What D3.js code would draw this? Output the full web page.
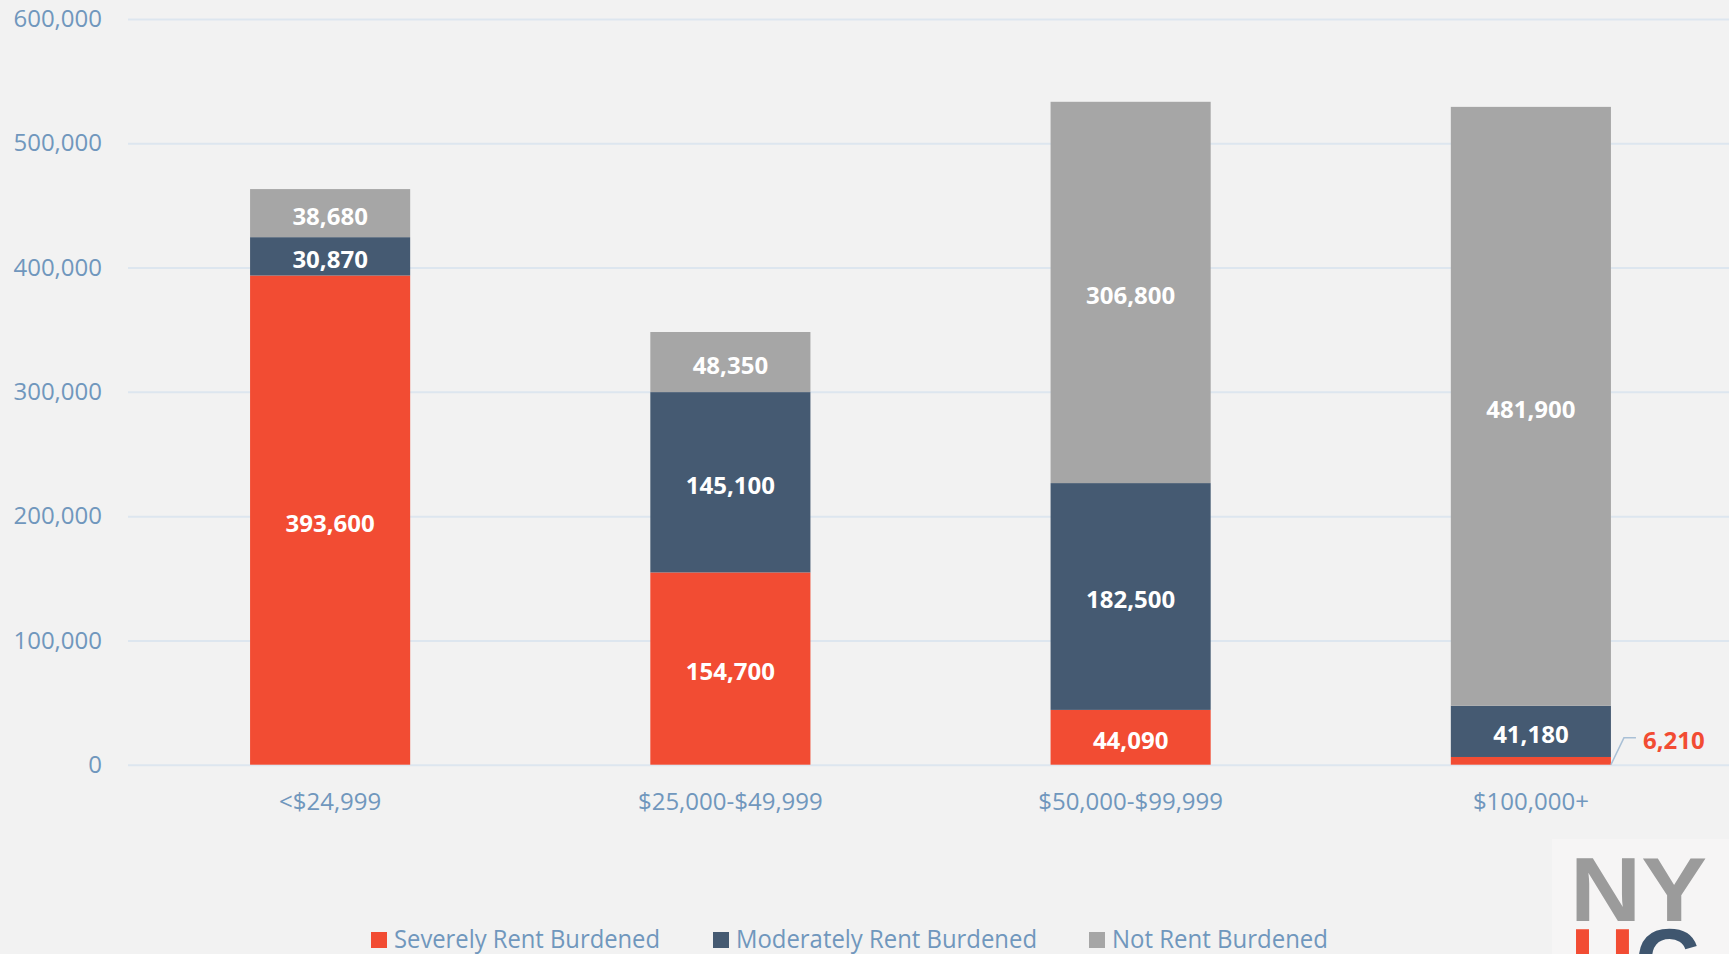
<!DOCTYPE html>
<html>
<head>
<meta charset="utf-8">
<script src="https://cdnjs.cloudflare.com/ajax/libs/d3/7.8.5/d3.min.js"></script>
<style>
  body { margin: 0; background: #f2f2f2; overflow: hidden; }
  svg { display: block; font-family: "Open Sans", sans-serif; }
</style>
</head>
<body>
<svg width="1729" height="954"></svg>
<script>
// Data
var categories = ["<$24,999", "$25,000-$49,999", "$50,000-$99,999", "$100,000+"];
var severe = [393600, 154700, 44090, 6210];
var moderate = [30870, 145100, 182500, 41180];
var notBurdened = [38680, 48350, 306800, 481900];
var seriesNames = ["Severely Rent Burdened", "Moderately Rent Burdened", "Not Rent Burdened"];
var seriesColors = ["#f24c33", "#455a72", "#a6a6a6"];
var yTicks = [0, 100000, 200000, 300000, 400000, 500000, 600000];

var svg = d3.select("svg"),
    width = +svg.attr("width"),
    height = +svg.attr("height");

var axisColor = "#7097bd";
var fmt = d3.format(",");

// Table for the stack
var table = categories.map(function(c, i) {
  return { cat: c, severe: severe[i], moderate: moderate[i], not: notBurdened[i] };
});
var stack = d3.stack().keys(["severe", "moderate", "not"])(table);

var x = d3.scaleBand()
    .domain(categories)
    .range([130, width + 2])
    .paddingInner(0.6)
    .paddingOuter(0.3);

var y = d3.scaleLinear()
    .domain([0, 600000])
    .range([764.7, 19]);

// Gridlines + y labels
var yAxis = svg.append("g")
    .attr("transform", "translate(128,0)")
    .call(d3.axisLeft(y).tickValues(yTicks).tickFormat(fmt).tickSize(-(width - 128)).tickPadding(26));
yAxis.select(".domain").remove();
yAxis.selectAll("line").attr("stroke", "#dde6ef").attr("stroke-width", 2);
yAxis.selectAll("text")
    .attr("fill", axisColor)
    .style("font-size", "24px")
    .style("font-family", "'Open Sans', sans-serif");

// X labels
svg.append("g").selectAll("text")
    .data(categories).enter().append("text")
    .attr("x", function(d) { return x(d) + x.bandwidth() / 2; })
    .attr("y", 810)
    .attr("text-anchor", "middle")
    .attr("fill", axisColor)
    .style("font-size", "24px")
    .text(function(d) { return d; });

// Stacked bars
var layers = svg.append("g").selectAll("g")
    .data(stack).enter().append("g")
    .attr("fill", function(d, i) { return seriesColors[i]; });

layers.selectAll("rect")
    .data(function(d) { return d; }).enter().append("rect")
    .attr("x", function(d) { return x(d.data.cat); })
    .attr("y", function(d) { return y(d[1]); })
    .attr("width", x.bandwidth())
    .attr("height", function(d) { return y(d[0]) - y(d[1]); });

// Value labels inside segments (small one goes outside with a leader)
stack.forEach(function(layer) {
  layer.forEach(function(d) {
    var v = d[1] - d[0];
    var cx = x(d.data.cat) + x.bandwidth() / 2;
    if (y(d[0]) - y(d[1]) < 20) {
      var bx = x(d.data.cat) + x.bandwidth();
      var ly = y(d[0] + v / 2) - 23;
      svg.append("path")
          .attr("d", "M" + bx + "," + y(d[0]) + "L" + (bx + 13) + "," + ly + "L" + (bx + 25) + "," + ly)
          .attr("fill", "none")
          .attr("stroke", "#a9c0d6")
          .attr("stroke-width", 1.5);
      svg.append("text")
          .attr("x", bx + 32)
          .attr("y", ly)
          .attr("dy", "0.45em")
          .attr("fill", seriesColors[0])
          .style("font-size", "24px")
          .style("font-weight", "bold")
          .text(fmt(v));
      return;
    }
    svg.append("text")
        .attr("x", cx)
        .attr("y", y(d[0] + v / 2))
        .attr("dy", "0.48em")
        .attr("text-anchor", "middle")
        .attr("fill", "#ffffff")
        .style("font-size", "24px")
        .style("font-weight", "bold")
        .text(fmt(v));
  });
});

// Legend
var legendX = [371, 713, 1089];
var legendW = [266, 301, 216];
var legend = svg.append("g").selectAll("g")
    .data(seriesNames).enter().append("g")
    .attr("transform", function(d, i) { return "translate(" + legendX[i] + ",0)"; });
legend.append("rect")
    .attr("y", 932)
    .attr("width", 16)
    .attr("height", 16)
    .attr("fill", function(d, i) { return seriesColors[i]; });
legend.append("text")
    .attr("x", 23)
    .attr("y", 948)
    .attr("fill", axisColor)
    .attr("textLength", function(d, i) { return legendW[i]; })
    .attr("lengthAdjust", "spacingAndGlyphs")
    .style("font-size", "25px")
    .text(function(d) { return d; });

// Logo (cut off at the bottom)
svg.append("rect")
    .attr("x", 1552).attr("y", 839)
    .attr("width", 177).attr("height", 115)
    .attr("fill", "#f6f5f5");
svg.append("text")
    .attr("x", 1570)
    .attr("y", 921)
    .style("font-family", "'Liberation Sans', Arial, sans-serif")
    .style("font-weight", "bold")
    .style("font-size", "90px")
    .attr("fill", "#9b9b9b")
    .attr("textLength", 137)
    .attr("lengthAdjust", "spacingAndGlyphs")
    .text("NY");
var logo2 = svg.append("text")
    .attr("x", 1570)
    .attr("y", 992)
    .style("font-family", "'Liberation Sans', Arial, sans-serif")
    .style("font-weight", "bold")
    .style("font-size", "90px");
logo2.append("tspan").attr("fill", "#f24c33").text("H");
logo2.append("tspan").attr("fill", "#3f566f").text("C");
</script>
</body>
</html>
